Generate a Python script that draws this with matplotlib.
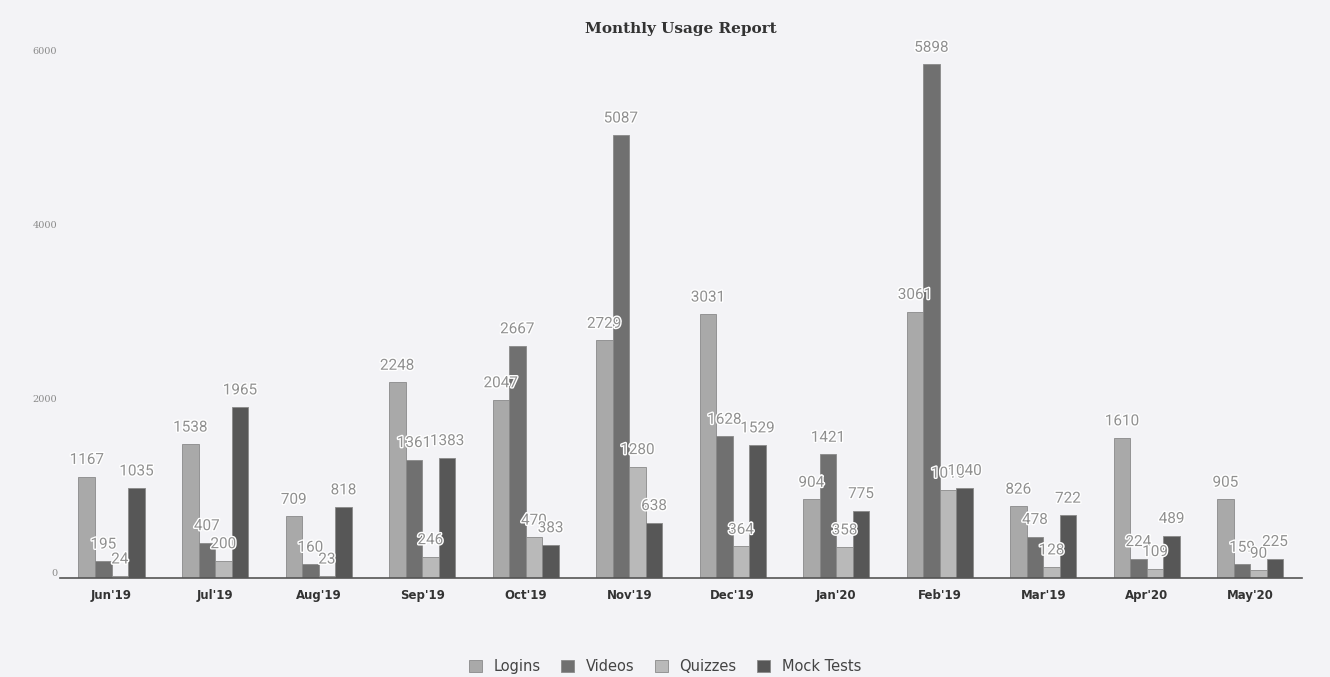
import numpy as np
import matplotlib.pyplot as plt
import matplotlib.patheffects as pe

months = ["Jun'19", "Jul'19", "Aug'19", "Sep'19", "Oct'19", "Nov'19",
          "Dec'19", "Jan'20", "Feb'19", "Mar'19", "Apr'20", "May'20"]
logins = [1167, 1538, 709, 2248, 2047, 2729, 3031, 904, 3061, 826, 1610, 905]
videos = [195, 407, 160, 1361, 2667, 5087, 1628, 1421, 5898, 478, 224, 159]
quizzes = [24, 200, 23, 246, 470, 1280, 364, 358, 1010, 128, 109, 90]
mock_tests = [1035, 1965, 818, 1383, 383, 638, 1529, 775, 1040, 722, 489, 225]

series = [("Logins", logins, "#a9a9a9"),
          ("Videos", videos, "#707070"),
          ("Quizzes", quizzes, "#b9b9b9"),
          ("Mock Tests", mock_tests, "#575757")]

bg = "#f3f3f6"
fig = plt.figure(figsize=(13.3, 6.77), dpi=100, facecolor=bg)
ax = fig.add_axes([0.045, 0.146, 0.934, 0.772], facecolor=bg)

x = np.arange(len(months))
w = 0.16
for i, (name, vals, col) in enumerate(series):
    pos = x + (i - 1.5) * w
    ax.bar(pos, vals, width=w, color=col, edgecolor="#8a8a8a", linewidth=0.6,
           label=name)
    for px, v in zip(pos, vals):
        ax.text(px, v + 110, str(v), ha="center", va="bottom", fontsize=11,
                color="#909090", family="Roboto",
                path_effects=[pe.withStroke(linewidth=2, foreground="white")])

ax.set_xlim(-0.5, len(months) - 0.5)
ax.set_ylim(0, 6000)
ax.set_yticks([0, 2000, 4000, 6000])
ax.set_yticklabels(["0", "2000", "4000", "6000"], fontsize=7, color="#8a8a8a",
                   family="DejaVu Serif", va="bottom")
ax.set_xticks(x)
ax.set_xticklabels(months, fontsize=8.5, fontweight="bold", color="#333333")
ax.tick_params(length=0, pad=8)
ax.tick_params(axis="y", pad=2)
for s in ["top", "right", "left"]:
    ax.spines[s].set_visible(False)
ax.spines["bottom"].set_color("#555555")
ax.spines["bottom"].set_linewidth(1.2)

ax.set_title("Monthly Usage Report", fontsize=11, fontweight="bold",
             family="DejaVu Serif", color="#333333", pad=16)

fig.legend(loc="lower center", ncol=4, frameon=False, fontsize=10.5,
           handlelength=0.9, handleheight=0.9, columnspacing=1.4,
           bbox_to_anchor=(0.5, -0.015), labelcolor="#444444")

fig.savefig("out.png", dpi=100, facecolor=bg)
